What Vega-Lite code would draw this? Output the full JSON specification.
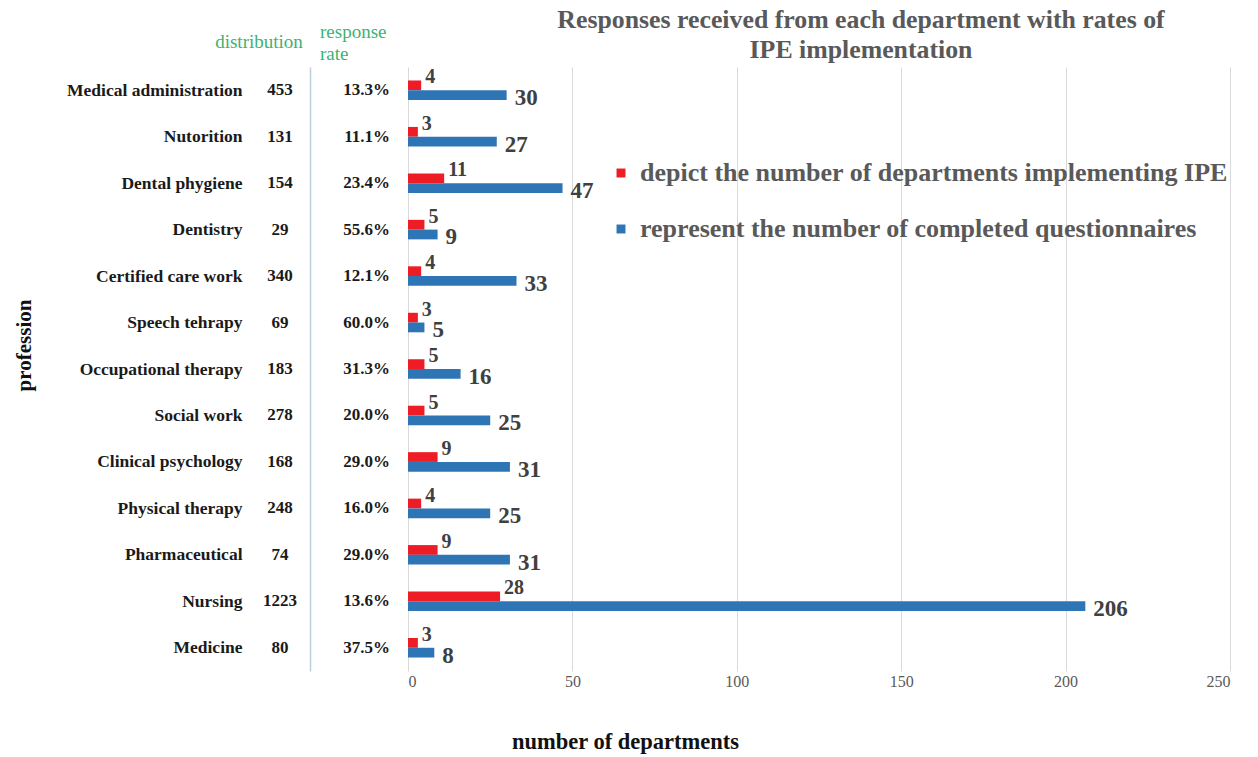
{
  "$schema": "https://vega.github.io/schema/vega-lite/v6.json",
  "background": "white",
  "padding": {"left": 13, "top": 7, "right": 10, "bottom": 5},
  "bounds": "flush",
  "spacing": 0,
  "config": {
    "font": "Liberation Serif",
    "view": {"stroke": null},
    "title": {"font": "Liberation Serif"},
    "axis": {"labelFont": "Liberation Serif", "titleFont": "Liberation Serif"},
    "legend": {"labelFont": "Liberation Serif"}
  },
  "datasets": {
    "professions": [
      {"profession": "Medical administration", "distribution": 453, "rate": 0.133},
      {"profession": "Nutorition", "distribution": 131, "rate": 0.111},
      {"profession": "Dental phygiene", "distribution": 154, "rate": 0.234},
      {"profession": "Dentistry", "distribution": 29, "rate": 0.556},
      {"profession": "Certified care work", "distribution": 340, "rate": 0.121},
      {"profession": "Speech tehrapy", "distribution": 69, "rate": 0.6},
      {"profession": "Occupational therapy", "distribution": 183, "rate": 0.313},
      {"profession": "Social work", "distribution": 278, "rate": 0.2},
      {"profession": "Clinical  psychology", "distribution": 168, "rate": 0.29},
      {"profession": "Physical therapy", "distribution": 248, "rate": 0.16},
      {"profession": "Pharmaceutical", "distribution": 74, "rate": 0.29},
      {"profession": "Nursing", "distribution": 1223, "rate": 0.136},
      {"profession": "Medicine", "distribution": 80, "rate": 0.375}
    ],
    "bars": [
      {"profession": "Medical administration", "series": "depict the number of departments implementing IPE", "value": 4},
      {"profession": "Medical administration", "series": "represent the number of completed questionnaires", "value": 30},
      {"profession": "Nutorition", "series": "depict the number of departments implementing IPE", "value": 3},
      {"profession": "Nutorition", "series": "represent the number of completed questionnaires", "value": 27},
      {"profession": "Dental phygiene", "series": "depict the number of departments implementing IPE", "value": 11},
      {"profession": "Dental phygiene", "series": "represent the number of completed questionnaires", "value": 47},
      {"profession": "Dentistry", "series": "depict the number of departments implementing IPE", "value": 5},
      {"profession": "Dentistry", "series": "represent the number of completed questionnaires", "value": 9},
      {"profession": "Certified care work", "series": "depict the number of departments implementing IPE", "value": 4},
      {"profession": "Certified care work", "series": "represent the number of completed questionnaires", "value": 33},
      {"profession": "Speech tehrapy", "series": "depict the number of departments implementing IPE", "value": 3},
      {"profession": "Speech tehrapy", "series": "represent the number of completed questionnaires", "value": 5},
      {"profession": "Occupational therapy", "series": "depict the number of departments implementing IPE", "value": 5},
      {"profession": "Occupational therapy", "series": "represent the number of completed questionnaires", "value": 16},
      {"profession": "Social work", "series": "depict the number of departments implementing IPE", "value": 5},
      {"profession": "Social work", "series": "represent the number of completed questionnaires", "value": 25},
      {"profession": "Clinical  psychology", "series": "depict the number of departments implementing IPE", "value": 9},
      {"profession": "Clinical  psychology", "series": "represent the number of completed questionnaires", "value": 31},
      {"profession": "Physical therapy", "series": "depict the number of departments implementing IPE", "value": 4},
      {"profession": "Physical therapy", "series": "represent the number of completed questionnaires", "value": 25},
      {"profession": "Pharmaceutical", "series": "depict the number of departments implementing IPE", "value": 9},
      {"profession": "Pharmaceutical", "series": "represent the number of completed questionnaires", "value": 31},
      {"profession": "Nursing", "series": "depict the number of departments implementing IPE", "value": 28},
      {"profession": "Nursing", "series": "represent the number of completed questionnaires", "value": 206},
      {"profession": "Medicine", "series": "depict the number of departments implementing IPE", "value": 3},
      {"profession": "Medicine", "series": "represent the number of completed questionnaires", "value": 8}
    ]
  },
  "hconcat": [
    {
      "width": 60,
      "height": 604,
      "data": {"name": "professions"},
      "title": {"text": "distribution", "color": "#3cb371", "fontSize": 19, "fontWeight": "normal", "anchor": "middle", "dx": -21, "offset": 15},
      "mark": {"type": "text", "font": "Liberation Serif", "fontWeight": "bold", "fontSize": 17, "color": "#1a1a1a", "align": "center"},
      "encoding": {
        "y": {
          "field": "profession", "type": "nominal", "sort": null,
          "scale": {"paddingInner": 0.58, "paddingOuter": 0.29},
          "axis": {
            "title": "profession", "titleFontSize": 21, "titleFontWeight": "bold", "titleColor": "#111111", "titlePadding": 32, "titleY": 278,
            "labelFontSize": 17.5, "labelFontWeight": "bold", "labelColor": "#1a1a1a", "labelPadding": 8,
            "ticks": false, "domain": false, "grid": false
          }
        },
        "text": {"field": "distribution", "type": "quantitative"}
      }
    },
    {
      "width": 98,
      "height": 604,
      "data": {"name": "professions"},
      "title": {"text": ["response", "rate"], "color": "#3cb371", "fontSize": 19, "fontWeight": "normal", "anchor": "start", "dx": 10, "offset": 3, "lineHeight": 22},
      "mark": {"type": "text", "font": "Liberation Serif", "fontWeight": "bold", "fontSize": 17, "color": "#1a1a1a", "align": "right"},
      "encoding": {
        "y": {
          "field": "profession", "type": "nominal", "sort": null,
          "scale": {"paddingInner": 0.58, "paddingOuter": 0.29},
          "axis": {"title": null, "labels": false, "ticks": false, "domain": true, "domainColor": "#b8cfe0", "domainWidth": 1.5, "grid": false}
        },
        "x": {"value": "width"},
        "xOffset": {"value": -18},
        "text": {"field": "rate", "type": "quantitative", "format": ".1%"}
      }
    },
    {
      "width": 822,
      "height": 604,
      "data": {"name": "bars"},
      "title": {"text": ["Responses received from each department with rates of", "IPE implementation"], "fontSize": 25.8, "fontWeight": "bold", "color": "#595959", "anchor": "middle", "dx": 42, "offset": 3, "lineHeight": 30},
      "encoding": {
        "y": {
          "field": "profession", "type": "nominal", "sort": null,
          "scale": {"paddingInner": 0.58, "paddingOuter": 0.29},
          "axis": null
        },
        "yOffset": {"field": "series", "type": "nominal", "sort": null},
        "x": {
          "field": "value", "type": "quantitative",
          "scale": {"domain": [0, 250], "nice": false},
          "axis": {
            "values": [0, 50, 100, 150, 200, 250],
            "title": "number of departments", "titleFontSize": 22.5, "titleFontWeight": "bold", "titleColor": "#111111",
            "titleX": 217, "titlePadding": 41,
            "labelFontSize": 16, "labelColor": "#595959", "labelPadding": 2,
            "domain": false, "ticks": false, "grid": true, "gridColor": "#d9d9d9", "gridWidth": 1
          }
        }
      },
      "layer": [
        {
          "mark": {"type": "bar", "height": {"band": 1}},
          "encoding": {
            "color": {
              "field": "series", "type": "nominal",
              "scale": {"domain": ["depict the number of departments implementing IPE", "represent the number of completed questionnaires"], "range": ["#ee1c25", "#2e75b6"]},
              "legend": {
                "title": null, "orient": "none", "legendX": 358, "legendY": 93,
                "symbolType": "square", "symbolSize": 80, "symbolStrokeWidth": 0,
                "labelFontSize": 26, "labelFontWeight": "bold", "labelColor": "#595959", "labelLimit": 800,
                "rowPadding": 30, "labelOffset": 6
              }
            }
          }
        },
        {
          "transform": [{"filter": "datum.series == 'depict the number of departments implementing IPE'"}],
          "mark": {"type": "text", "align": "left", "dx": 4, "dy": -8, "fontSize": 20, "fontWeight": "bold", "color": "#404040", "font": "Liberation Serif"},
          "encoding": {"text": {"field": "value", "type": "quantitative"}}
        },
        {
          "transform": [{"filter": "datum.series == 'represent the number of completed questionnaires'"}],
          "mark": {"type": "text", "align": "left", "dx": 8, "dy": 3, "fontSize": 23, "fontWeight": "bold", "color": "#404040", "font": "Liberation Serif"},
          "encoding": {"text": {"field": "value", "type": "quantitative"}}
        }
      ]
    }
  ]
}
